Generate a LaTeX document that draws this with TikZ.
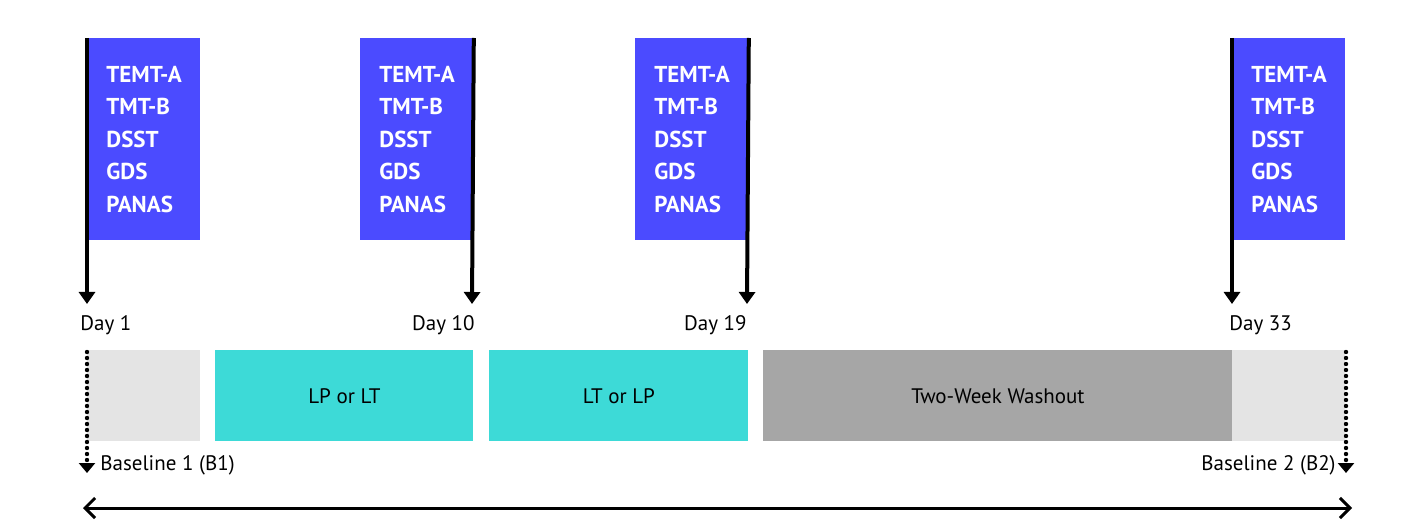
\documentclass[tikz,border=0pt]{standalone}
\usepackage{fontspec}
\setmainfont{PT Sans}
\usetikzlibrary{arrows.meta,positioning}

\definecolor{bandiera}{HTML}{4B4BFF}
\definecolor{trattamento}{HTML}{3DDAD7}
\definecolor{grigiochiaro}{HTML}{E4E4E4}
\definecolor{grigioscuro}{HTML}{A6A6A6}

\tikzset{
  flag/.style={fill=bandiera, text=white, anchor=north west,
    minimum width=56.5pt, minimum height=101pt, text width=37.5pt,
    inner xsep=9.5pt, inner ysep=0pt, align=left,
    font=\bfseries\fontsize{11.5}{16.25}\selectfont},
  asta/.style={line width=2pt, -{Triangle[length=6pt,width=8pt]}},
  giorno/.style={font=\fontsize{10.5}{12}\selectfont, inner sep=0pt},
  fase/.style={anchor=north west, minimum height=45.5pt, inner sep=0pt,
    font=\fontsize{10.5}{12}\selectfont},
  puntini/.style={line width=2.2pt, line cap=round, dash pattern=on 0pt off 3pt,
    -{Triangle[length=5pt,width=8pt]}},
}
\newcommand{\test}{\mbox{TEMT-A}\\TMT-B\\DSST\\GDS\\PANAS}

\begin{document}
\begin{tikzpicture}[x=0.5pt,y=-0.5pt]
  \useasboundingbox (0,0) rectangle (1414,529);

  % bandiere
  \node[flag] (Flag1) at (87,38) {\test};
  \node[flag] (Flag2) at (360,38) {\test};
  \node[flag] (Flag3) at (635,38) {\test};
  \node[flag] (Flag4) at (1232,38) {\test};

  % aste
  \coordinate (Top1) at (Flag1.north west);
  \coordinate (Top2) at (Flag2.north east);
  \coordinate (Top3) at (Flag3.north east);
  \coordinate (Top4) at (Flag4.north west);
  \coordinate (Tip1) at (87,304);
  \coordinate (Tip2) at (472,304);
  \coordinate (Tip3) at (747,304);
  \coordinate (Tip4) at (1232,304);
  \draw[asta] (Top1) -- (Tip1);
  \draw[asta] (Top2) -- (Tip2);
  \draw[asta] (Top3) -- (Tip3);
  \draw[asta] (Top4) -- (Tip4);

  % giorni
  \node[giorno, anchor=base west] (Day1) at (80,330) {Day 1};
  \node[giorno, anchor=base east] (Day10) at (475,330) {Day 10};
  \node[giorno, anchor=base east] (Day19) at (747,330) {Day 19};
  \node[giorno, anchor=base west] (Day33) at (1229,330) {Day 33};

  % fasi
  \node[fase, fill=grigiochiaro, minimum width=56.5pt] (B1) at (87,350) {};
  \node[fase, fill=trattamento, minimum width=129pt] (Fase1) at (215,350) {LP or LT};
  \node[fase, fill=trattamento, minimum width=129.5pt] (Fase2) at (489,350) {LT or LP};
  \node[fase, fill=grigioscuro, minimum width=234.5pt] (Washout) at (763,350) {Two-Week Washout};
  \node[fase, fill=grigiochiaro, minimum width=56.5pt] (B2) at (1232,350) {};

  % baseline
  \coordinate (Dot1) at (87,352);
  \coordinate (Dot2) at (1346,352);
  \coordinate (Fine1) at (87,473);
  \coordinate (Fine2) at (1346,473);
  \draw[puntini] (Dot1) -- (Fine1);
  \draw[puntini] (Dot2) -- (Fine2);
  \node[giorno, anchor=base west] (Base1) at (100,470) {Baseline 1 (B1)};
  \node[giorno, anchor=base east] (Base2) at (1336,470) {Baseline 2 (B2)};

  % durata
  \coordinate (Inizio) at (83,508);
  \coordinate (Termine) at (1352,508);
  \draw[line width=1.5pt, {Straight Barb[length=5pt,width=10pt]}-{Straight Barb[length=5pt,width=10pt]}] (Inizio) -- (Termine);
\end{tikzpicture}
\end{document}
